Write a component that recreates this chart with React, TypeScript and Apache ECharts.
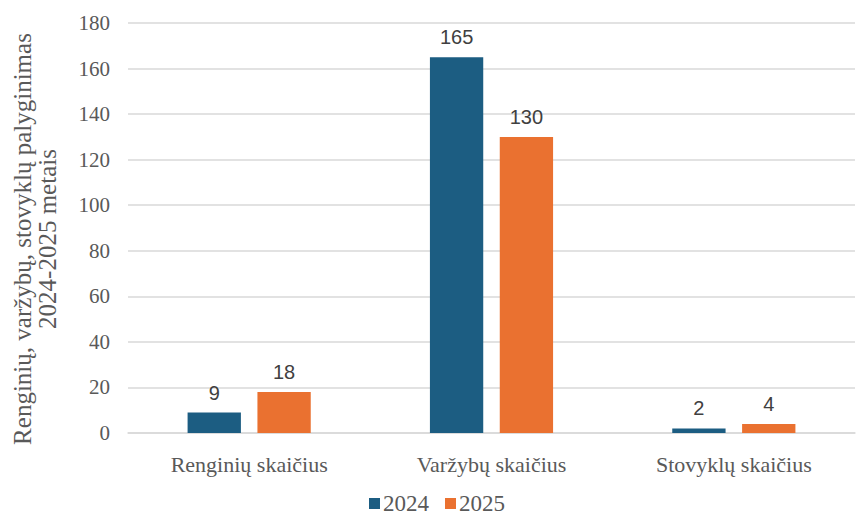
import React, { useEffect, useRef } from "react";
import * as echarts from "echarts";

const categories = ["Renginių skaičius", "Varžybų skaičius", "Stovyklų skaičius"];
const values2024 = [9, 165, 2];
const values2025 = [18, 130, 4];
const seriesNames = ["2024", "2025"];
const yAxisName = "Renginių, varžybų, stovyklų palyginimas\n2024-2025 metais";

export default function App() {
  const ref = useRef<HTMLDivElement>(null);
  useEffect(() => {
    const chart = echarts.init(ref.current!, null, { renderer: "svg" });
    const serif = "'Liberation Serif', 'DejaVu Serif', serif";
    const sans = "'Liberation Sans', Arial, sans-serif";
    const label = {
      show: true,
      position: "top",
      distance: 10,
      fontFamily: sans,
      fontSize: 20,
      color: "#404040",
    };
    chart.setOption({
      animation: false,
      backgroundColor: "#ffffff",
      grid: { left: 128, right: 3, top: 23, bottom: 85 },
      legend: {
        top: 490,
        left: 367,
        padding: 2,
        itemWidth: 11,
        itemHeight: 11,
        itemGap: 16,
        icon: "rect",
        textStyle: {
          fontFamily: serif,
          fontSize: 23,
          lineHeight: 20,
          color: "#595959",
          padding: [0, 0, 0, -2],
        },
        data: seriesNames,
      },
      xAxis: {
        type: "category",
        data: categories,
        axisTick: { show: false },
        axisLine: { lineStyle: { color: "#d9d9d9", width: 1.5 } },
        axisLabel: { fontFamily: serif, fontSize: 22, color: "#595959", margin: 20 },
      },
      yAxis: {
        type: "value",
        min: 0,
        max: 180,
        interval: 20,
        name: yAxisName,
        nameLocation: "middle",
        nameGap: 68,
        nameTextStyle: {
          fontFamily: serif,
          fontSize: 25,
          color: "#595959",
          lineHeight: 25,
          padding: [0, 22, 0, 0],
        },
        axisLine: { show: false },
        axisTick: { show: false },
        axisLabel: { fontFamily: serif, fontSize: 21, color: "#595959", margin: 18 },
        splitLine: { lineStyle: { color: "#d9d9d9", width: 1.5 } },
      },
      series: [
        {
          name: seriesNames[0],
          type: "bar",
          data: values2024,
          barWidth: "22%",
          barGap: "31%",
          itemStyle: { color: "#1c5d82" },
          label,
        },
        {
          name: seriesNames[1],
          type: "bar",
          data: values2025,
          barWidth: "22%",
          barGap: "31%",
          itemStyle: { color: "#ea7130" },
          label,
        },
      ],
    });
    return () => chart.dispose();
  }, []);
  return <div ref={ref} style={{ width: 858, height: 518, position: "absolute", left: 0, top: 0 }} />;
}
